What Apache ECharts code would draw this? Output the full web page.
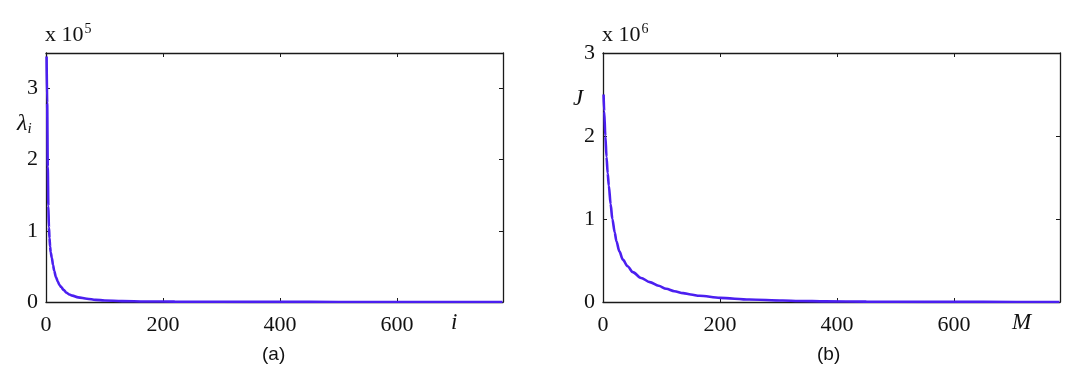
<!DOCTYPE html>
<html>
<head>
<meta charset="utf-8">
<script src="https://cdn.jsdelivr.net/npm/echarts@6/dist/echarts.min.js"></script>
<style>html,body{margin:0;padding:0;background:#fff}#c{width:1083px;height:382px}</style>
</head>
<body>
<div id="c"></div>
<script>
// (a) eigenvalues lambda_i, in units of 1e5
const iIndex = [1,2,3,4,5,6,7,8,10,12,14,17,20,23,26,30,35,40,45,55,70,85,100,130,170,220,300,400,500,600,700,780];
const lambdaVals = [3.45,2.8,1.9,1.35,1.05,0.9,0.78,0.7,0.62,0.52,0.44,0.35,0.29,0.24,0.21,0.17,0.13,0.105,0.09,0.065,0.045,0.03,0.022,0.013,0.008,0.005,0.003,0.0015,0.0008,0.0004,0.0002,0.0001];
// (b) cost J versus M, in units of 1e6
const mIndex = [1,2,4,6,8,10,13,16,20,23,28,34,42,51,65,80,95,108,122,137,150,165,200,250,307,335,380,450,550,650,780];
const jVals = [2.5,2.3,2.0,1.75,1.55,1.4,1.18,1.0,0.84,0.73,0.61,0.51,0.43,0.36,0.29,0.24,0.195,0.16,0.13,0.107,0.09,0.075,0.05,0.03,0.018,0.012,0.008,0.004,0.002,0.001,0.0005];
const xTicks = [0,200,400,600];
const yTicksA = [0,1,2,3];
const yTicksB = [0,1,2,3];

const serif = '"Liberation Serif","DejaVu Serif",serif';
const lineColor = '#4b1ff0';
const axisColor = '#1a1a1a';
const X_MAX = 781;

function zip(xs, ys){ return xs.map((x,k)=>[x, ys[k]]); }

function mkX(grid, pos, labels){
  return {
    type:'value', gridIndex:grid, position:pos, min:0, max:X_MAX, interval:200,
    axisLine:{show:true, onZero:false, lineStyle:{color:axisColor, width:1.3}},
    axisTick:{show:true, inside:true, length:4, lineStyle:{color:axisColor, width:1}},
    axisLabel:{show:labels, margin:12, fontFamily:serif, fontSize:22, color:'#111',
      formatter:v=> xTicks.indexOf(v)>=0 ? String(v) : ''},
    splitLine:{show:false}
  };
}
function mkY(grid, pos, max, ticks, labels){
  return {
    type:'value', gridIndex:grid, position:pos, min:0, max:max, interval:1,
    axisLine:{show:true, onZero:false, lineStyle:{color:axisColor, width:1.3}},
    axisTick:{show:true, inside:true, length:4, lineStyle:{color:axisColor, width:1}},
    axisLabel:{show:labels, margin:8, fontFamily:serif, fontSize:22, color:'#111',
      formatter:v=> ticks.indexOf(v)>=0 ? String(v) : ''},
    splitLine:{show:false}
  };
}

const chart = echarts.init(document.getElementById('c'));
chart.setOption({
  animation:false,
  backgroundColor:'#fff',
  grid:[
    {left:46, top:53, width:457, height:249},
    {left:603, top:53, width:457, height:249}
  ],
  xAxis:[ mkX(0,'bottom',true), mkX(0,'top',false), mkX(1,'bottom',true), mkX(1,'top',false) ],
  yAxis:[ mkY(0,'left',3.5,yTicksA,true), mkY(0,'right',3.5,yTicksA,false),
          mkY(1,'left',3,yTicksB,true), mkY(1,'right',3,yTicksB,false) ],
  series:[
    {type:'line', xAxisIndex:0, yAxisIndex:0, data:zip(iIndex, lambdaVals), showSymbol:false,
     smooth:0.3, smoothMonotone:'x', lineStyle:{color:lineColor, width:2.6}, itemStyle:{color:lineColor}},
    {type:'line', xAxisIndex:2, yAxisIndex:2, data:zip(mIndex, jVals), showSymbol:false,
     smooth:0.3, smoothMonotone:'x', lineStyle:{color:lineColor, width:2.6}, itemStyle:{color:lineColor}}
  ],
  graphic:[
    {type:'text', left:45, top:22, style:{text:'x 10{s|5}', fill:'#111', font:'22px '+serif,
      rich:{s:{fontSize:14, fontFamily:serif, verticalAlign:'top', padding:[0,0,12,1]}}}},
    {type:'text', left:602, top:22, style:{text:'x 10{s|6}', fill:'#111', font:'22px '+serif,
      rich:{s:{fontSize:14, fontFamily:serif, verticalAlign:'top', padding:[0,0,12,1]}}}},
    {type:'text', left:17, top:112, style:{text:'λ{s|i}', fill:'#111', font:'italic 24px '+serif,
      rich:{s:{fontSize:15, fontStyle:'italic', fontFamily:serif, padding:[10,0,0,0]}}}},
    {type:'text', left:573, top:87, style:{text:'J', fill:'#111', font:'italic 23px '+serif}},
    {type:'text', left:451, top:311, style:{text:'i', fill:'#111', font:'italic 23px '+serif}},
    {type:'text', left:1012, top:311, style:{text:'M', fill:'#111', font:'italic 23px '+serif}},
    {type:'text', left:262, top:345, style:{text:'(a)', fill:'#111', font:'19px "Liberation Sans",Arial,sans-serif'}},
    {type:'text', left:817, top:345, style:{text:'(b)', fill:'#111', font:'19px "Liberation Sans",Arial,sans-serif'}}
  ]
});
</script>
</body>
</html>
